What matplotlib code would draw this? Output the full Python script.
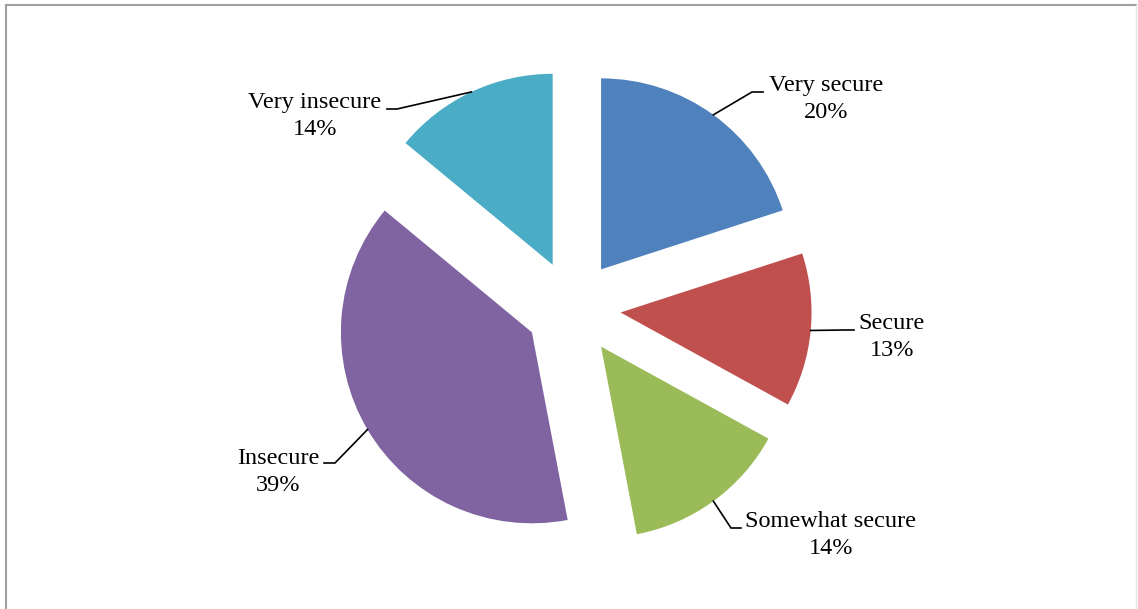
import math
import matplotlib
matplotlib.use('Agg')
import matplotlib.pyplot as plt
from matplotlib.lines import Line2D

W, H = 1138, 609

# data
categories = ['Very secure', 'Secure', 'Somewhat secure', 'Insecure', 'Very insecure']
shares = [20, 13, 14, 39, 14]
colors = ['#4F81BD', '#C0504D', '#9BBB59', '#8064A2', '#4BACC6']

# label layout (pixels from top-left): text centre, elbow, line end at text
label_pos = [(826, 99), (892, 337), (831, 535), (278, 472), (315, 116)]
elbow_pos = [(752, 92), (844, 330), (731, 528), (335, 463), (397, 109)]
end_pos = [(763, 92), (854, 330), (741, 528), (324, 463), (387, 109)]

CENTER = (573, H - 308)
RADIUS = 191
EXPLODE = 0.25


def flip(p):
    return (p[0], H - p[1])


plt.rcParams['font.family'] = ['Liberation Serif', 'DejaVu Serif']

fig = plt.figure(figsize=(W / 100, H / 100), dpi=100)
ax = fig.add_axes([0, 0, 1, 1])

wedges, _ = ax.pie(shares, colors=colors, startangle=90, counterclock=False,
                   explode=[EXPLODE * RADIUS] * len(shares),
                   radius=RADIUS, center=CENTER,
                   wedgeprops=dict(linewidth=0))
# pie() resets the limits, so set them afterwards
ax.set_xlim(0, W)
ax.set_ylim(0, H)
ax.set_aspect('equal')
ax.axis('off')

total = sum(shares)
for w, cat, val, lp, ep, tp in zip(wedges, categories, shares, label_pos, elbow_pos, end_pos):
    mid = math.radians((w.theta1 + w.theta2) / 2)
    cx, cy = w.center
    sx, sy = cx + RADIUS * math.cos(mid), cy + RADIUS * math.sin(mid)
    e = flip(ep)
    t = flip(tp)
    ax.plot([sx, e[0], t[0]], [sy, e[1], t[1]], color='black', lw=1.2,
            solid_joinstyle='miter')
    l = flip(lp)
    ax.text(l[0], l[1], '{}\n{}%'.format(cat, round(100 * val / total)),
            ha='center', va='center', multialignment='center',
            fontsize=17.5, color='black', linespacing=1.42)

# chart frame
fig.add_artist(Line2D([6 / W, 6 / W], [0, 1 - 5 / H], transform=fig.transFigure,
                      color='#a0a0a0', lw=1.5))
fig.add_artist(Line2D([6 / W, 1136 / W], [1 - 5 / H, 1 - 5 / H], transform=fig.transFigure,
                      color='#a0a0a0', lw=1.5))
fig.add_artist(Line2D([1136 / W, 1136 / W], [0, 1 - 5 / H], transform=fig.transFigure,
                      color='#e4e4e4', lw=1))

fig.savefig('out.png', dpi=100, facecolor='white')
